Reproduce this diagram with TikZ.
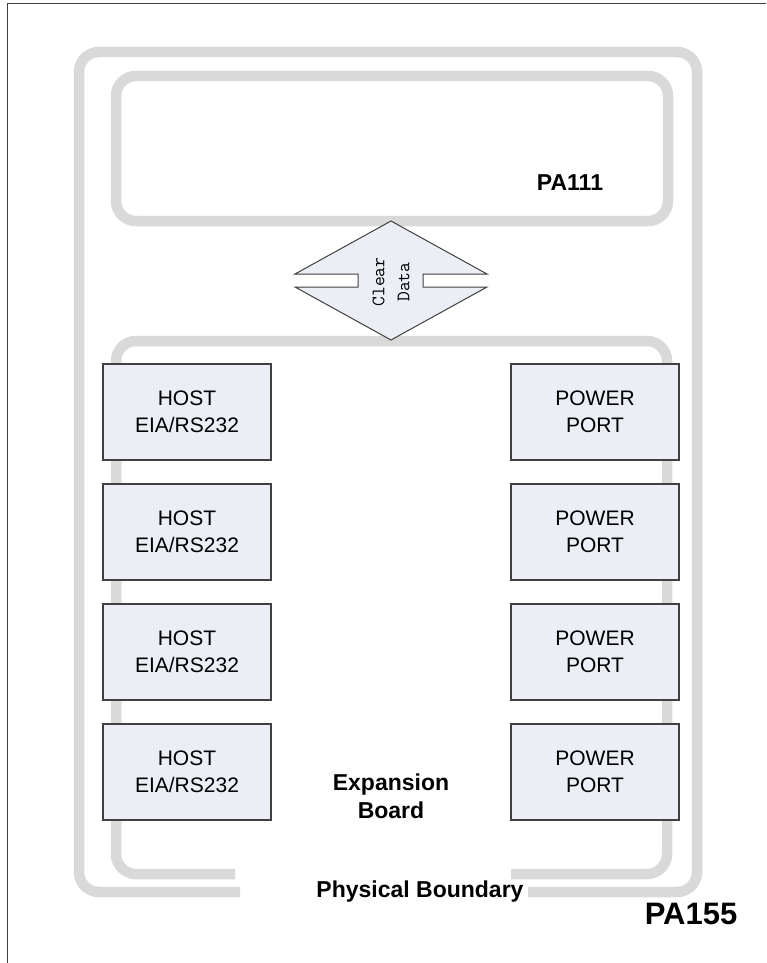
\documentclass[tikz,border=0pt]{standalone}
\usepackage{fontspec}
\setmainfont{Liberation Sans}
\usepackage{tikz}

\definecolor{bandgray}{RGB}{217,217,217}
\definecolor{boxfill}{RGB}{235,238,245}
\definecolor{boxline}{RGB}{64,64,64}

\begin{document}
\begin{tikzpicture}[x=1pt,y=-1pt,
  band/.style={line width=10.5pt, draw=bandgray, rounded corners=20pt},
  portbox/.style={draw=boxline, line width=1.2pt, fill=boxfill, minimum width=168pt, minimum height=96pt,
    align=center, inner sep=0pt, font=\fontsize{21}{27}\selectfont},
  boldlbl/.style={align=center, inner sep=0pt, font=\bfseries\fontsize{23}{28}\selectfont}]

\useasboundingbox (0,0) rectangle (766,963);

% Page border (top and left only)
\draw[boxline, line width=1pt] (7,963) -- (7,3.5) -- (766,3.5);

% Define the outer boundary coordinates
\coordinate (OL) at (240,892);
\coordinate (OR) at (528,892);

% Define the expansion board boundary coordinates
\coordinate (IL) at (235,874);
\coordinate (IR) at (511,874);

% Draw the boundary bands
\draw[band] (OL) -- (79,892) -- (79,52) -- (697,52) -- (697,892) -- (OR); % Physical boundary
\draw[band] (116,76) rectangle (668,221); % PA111
\draw[band] (IL) -- (116,874) -- (116,341) -- (667,341) -- (667,874) -- (IR); % Expansion board

% Define the diamond coordinates
\coordinate (Dt) at (391,221);
\coordinate (Db) at (391,340);
\coordinate (Lt) at (295,274);
\coordinate (Lti) at (358,274);
\coordinate (Lbi) at (358,287);
\coordinate (Lb) at (295,287);
\coordinate (Rt) at (487,274);
\coordinate (Rti) at (423,274);
\coordinate (Rbi) at (423,287);
\coordinate (Rb) at (487,287);

% Draw the diamond with its two slots
\draw[boxline, line width=1pt, fill=boxfill] (Dt) -- (Rt) -- (Rti) -- (Rbi) -- (Rb) -- (Db)
  -- (Lb) -- (Lbi) -- (Lti) -- (Lt) -- cycle;
\node[rotate=90, align=center, inner sep=0pt, font=\ttfamily\fontsize{19}{25}\selectfont] (clear) at (391,282) {Clear\\Data};

% Host ports
\node[portbox] (host1) at (187,412) {HOST\\EIA/RS232};
\node[portbox] (host2) at (187,532) {HOST\\EIA/RS232};
\node[portbox] (host3) at (187,652) {HOST\\EIA/RS232};
\node[portbox] (host4) at (187,772) {HOST\\EIA/RS232};

% Power ports
\node[portbox] (power1) at (595,412) {POWER\\PORT};
\node[portbox] (power2) at (595,532) {POWER\\PORT};
\node[portbox] (power3) at (595,652) {POWER\\PORT};
\node[portbox] (power4) at (595,772) {POWER\\PORT};

% Add labels
\node[boldlbl] (pa111) at (570,183) {PA111};
\node[boldlbl] (board) at (391,796) {Expansion\\Board};
\node[boldlbl] (phys) at (420,892) {Physical Boundary};
\node[boldlbl, font=\bfseries\fontsize{31}{36}\selectfont] (pa155) at (691,914) {PA155};

\end{tikzpicture}
\end{document}
